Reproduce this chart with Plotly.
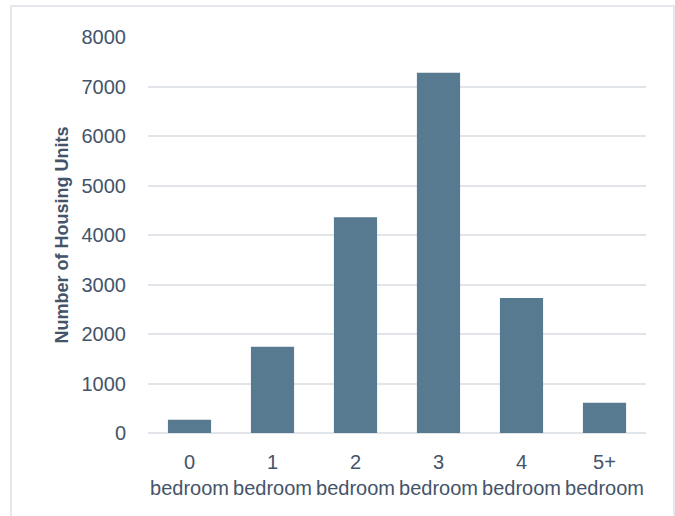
import plotly.graph_objects as go

categories = ["0<br>bedroom", "1<br>bedroom", "2<br>bedroom", "3<br>bedroom", "4<br>bedroom", "5+<br>bedroom"]
units = [270, 1740, 4360, 7280, 2725, 610]
y_ticks = [0, 1000, 2000, 3000, 4000, 5000, 6000, 7000, 8000]

TEXT = "#44546A"
FONT = "Liberation Sans, Arial, sans-serif"

fig = go.Figure()
fig.add_trace(go.Bar(
    x=categories, y=units,
    marker=dict(color="#587A90", line=dict(width=0)),
    width=0.52,
    hoverinfo="x+y",
))

fig.update_layout(
    width=675, height=516,
    margin=dict(l=148, r=29, t=37, b=83, autoexpand=False),
    paper_bgcolor="white", plot_bgcolor="white",
    showlegend=False,
    font=dict(family=FONT, color=TEXT),
    xaxis=dict(
        type="category",
        tickfont=dict(family=FONT, size=20, color=TEXT),
        tickangle=0, automargin=False,
        showgrid=False, showline=False, zeroline=False,
        ticks="", ticklabelstandoff=15,
    ),
    yaxis=dict(
        range=[0, 8000], tickvals=y_ticks,
        tickfont=dict(family=FONT, size=20, color=TEXT),
        automargin=False,
        showgrid=True, gridcolor="#E1E5EA", gridwidth=2,
        zeroline=True, zerolinecolor="#E1E5EA", zerolinewidth=2,
        showline=False, ticks="", ticklabelstandoff=21,
        title=dict(text="<b>Number of Housing Units</b>",
                   font=dict(family=FONT, size=18, color=TEXT), standoff=8),
    ),
    shapes=[dict(type="rect", xref="paper", yref="paper",
                 x0=-0.2751, x1=1.0562, y0=-0.3, y1=1.0782,
                 line=dict(color="#DDE1E6", width=1.5), fillcolor="rgba(0,0,0,0)",
                 layer="below")],
)

fig.write_html("out.html")
